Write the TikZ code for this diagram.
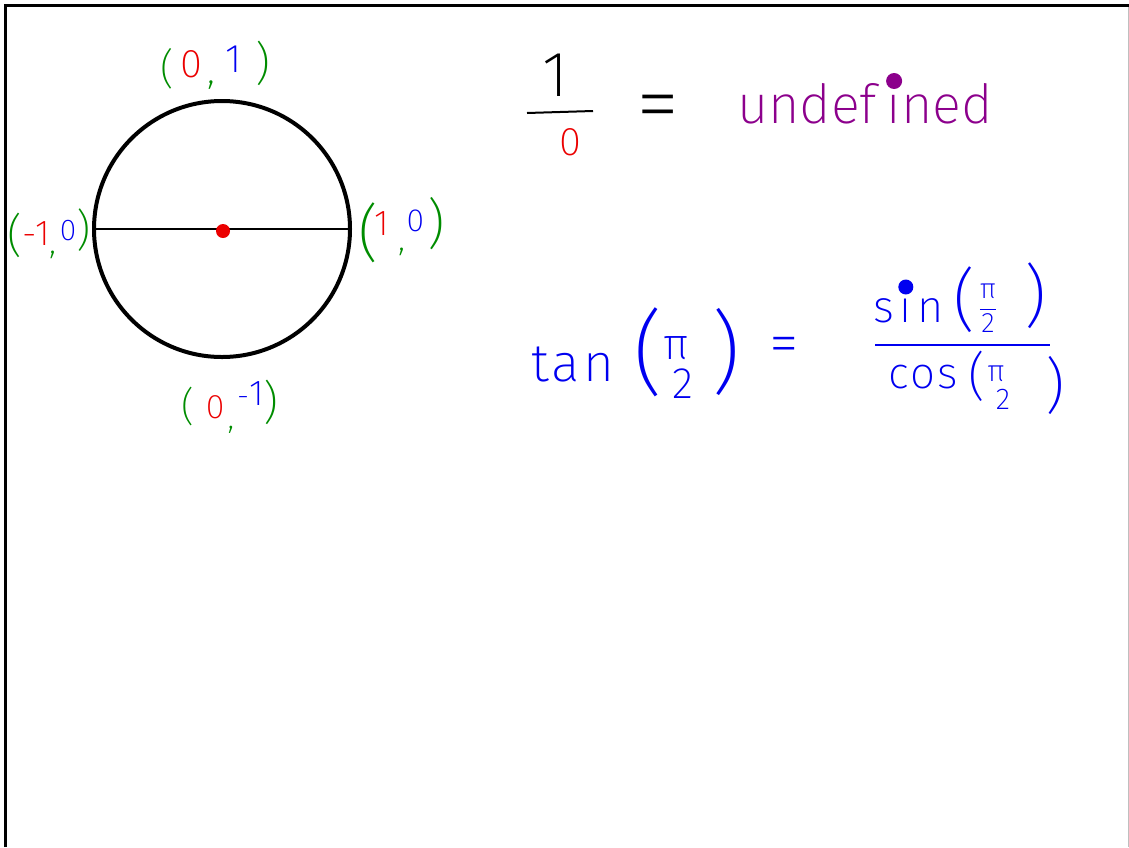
\documentclass[tikz,border=0pt]{standalone}
\usepackage{fontspec}
\setmainfont{Fira Sans ExtraLight}
\usetikzlibrary{calc}
\definecolor{hgreen}{RGB}{0,140,0}
\definecolor{hred}{RGB}{235,0,0}
\definecolor{hblue}{RGB}{0,0,240}
\definecolor{hpurple}{RGB}{140,0,140}
\newcommand\fs[1]{\fontsize{#1}{#1}\selectfont}
\newcommand\ch[5]{\hspace*{#1pt}\raisebox{#2pt}{\fs{#4}\textcolor{#3}{#5}}}
\newlength\lenUndef
\newlength\lenIi
\newlength\lenS
\newlength\lenSi
\AtBeginDocument{%
  \settowidth{\lenUndef}{\normalfont\fs{54}undef\kern10pt}%
  \settowidth{\lenIi}{\normalfont\fs{54}i}%
  \settowidth{\lenS}{\normalfont\fs{45}s\kern6pt}%
  \settowidth{\lenSi}{\normalfont\fs{45}i}}
\begin{document}
\begin{tikzpicture}[x=1pt,y=-1pt,
  every node/.style={inner sep=0pt,outer sep=0pt},
  lab/.style={anchor=base west},
  sym/.style={anchor=center},
  bigdot/.style={circle,minimum size=#1,inner sep=0pt}]
\path[use as bounding box] (0,0) rectangle (1129,847);
% frame
\coordinate (fbl) at (5.5,847);
\coordinate (ftl) at (5.5,5.5);
\coordinate (ftr) at (1129,5.5);
\draw[line width=3pt] (fbl) -- (ftl) -- (ftr);
\coordinate (rt) at (1128.5,7);
\coordinate (rb) at (1128.5,847);
\draw[black!25,line width=1pt] (rt) -- (rb);
% unit circle
\coordinate (O) at (222,229);
\coordinate (W) at (94,229);
\coordinate (E) at (350,229);
\draw[line width=4pt] (O) circle[radius=128];
\draw[line width=1.2pt] (W) -- (E);
\node[bigdot=14pt,fill=hred] (cdot) at (223,231) {};
% point labels
\node[lab] (top) at (160,77) {\ch{0}{-6}{hgreen}{42}{(}\ch{7}{0}{hred}{40}{0}\ch{5}{-6}{hgreen}{40}{,}\ch{10}{5}{hblue}{40}{1}\ch{14}{-2}{hgreen}{46}{)}};
\node[lab] (left) at (8,245) {\ch{0}{-6}{hgreen}{46}{(}\ch{0}{-1}{hred}{36}{-}\ch{-2}{0}{hred}{36}{1}\ch{0}{-8}{hgreen}{36}{,}\ch{3}{5}{hblue}{30}{0}\ch{0}{0}{hgreen}{44}{)}};
\node[lab] (right) at (358,240) {\ch{0}{-14}{hgreen}{62}{(}\ch{-4}{5}{hred}{36}{1}\ch{10}{-10}{hgreen}{36}{,}\ch{1}{9}{hblue}{32}{0}\ch{3}{-2}{hgreen}{54}{)}};
\node[lab] (bottom) at (181,415) {\ch{0}{-5}{hgreen}{40}{(}\ch{12}{-3}{hred}{34}{0}\ch{3}{-13}{hgreen}{34}{,}\ch{3}{9}{hblue}{30}{-}\ch{0}{10}{hblue}{36}{1}\ch{0}{-3}{hgreen}{46}{)}};
% 1/0 = undefined
\node[sym,font=\fs{64}] (one) at (555,75) {1};
\coordinate (barL) at (527,113);
\coordinate (barR) at (593,111);
\draw[line width=2pt] (barL) -- (barR);
\node[sym,font=\fs{40},text=hred] (zero) at (570,142) {0};
\node[sym,font=\fs{88}] (eqa) at (658,114) {=};
\node[lab,font=\fs{54},text=hpurple] (undef) at (737,123) {undef\kern10pt ined};
\node[bigdot=16pt,fill=hpurple] (idot) at ($(undef.base west)+(\lenUndef+0.5\lenIi,42pt)$) {};
% tan(pi/2) = sin(pi/2)/cos(pi/2)
\node[lab,font=\fs{53},text=hblue] (tan) at (531,381) {t\kern3pt a\kern3pt n};
\node[sym,font=\fs{92},text=hblue] (tpa) at (648,352) {(};
\node[sym,font=\fs{44},text=hblue,align=center] (tfr) at (683,368) {π\hspace*{14pt}\\[-5pt]2};
\node[sym,font=\fs{90},text=hblue] (tpb) at (726,352) {)};
\node[sym,font=\fs{60},text=hblue] (eqb) at (784,350) {=};
\coordinate (fbL) at (875,345);
\coordinate (fbR) at (1050,345);
\draw[hblue,line width=1.2pt] (fbL) -- (fbR);
\node[lab,font=\fs{45},text=hblue] (sin) at (873,322) {s\kern6pt i\kern6pt n};
\node[bigdot=15pt,fill=hblue] (sdot) at ($(sin.base west)+(\lenS+0.5\lenSi,35pt)$) {};
\node[sym,font=\fs{68},text=hblue] (spa) at (965,300) {(};
\node[sym,font=\fs{28},text=hblue] (sfr) at (988,308) {$\displaystyle\frac{\mbox{π}}{\mbox{2}}$};
\node[sym,font=\fs{68},text=hblue] (spb) at (1036,296) {)};
\node[lab,font=\fs{44},text=hblue] (cos) at (888,388) {c\kern2pt o\kern2pt s};
\node[sym,font=\fs{52},text=hblue] (cpa) at (977,376) {(};
\node[sym,font=\fs{30},text=hblue,align=center] (cfr) at (1003,388) {π\hspace*{14pt}\\[-2pt]2};
\node[sym,font=\fs{60},text=hblue] (cpb) at (1055,385) {)};
\end{tikzpicture}
\end{document}
